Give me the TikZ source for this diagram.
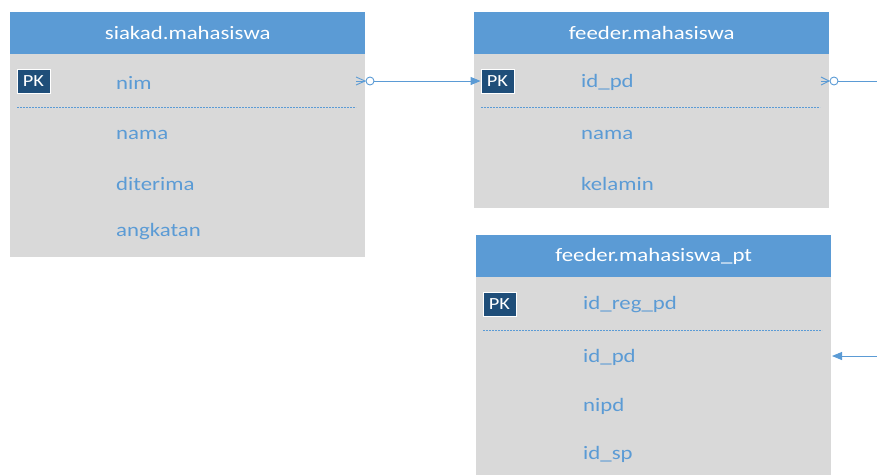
\documentclass[tikz,border=0pt]{standalone}
\usepackage{fontspec}
\setmainfont{Carlito}
\newfontfamily\widefont[FakeStretch=1.2]{Carlito}
\usetikzlibrary{arrows.meta}
\definecolor{hdrblue}{HTML}{5B9BD5}
\definecolor{bodygray}{HTML}{D9D9D9}
\definecolor{pkblue}{HTML}{1F4E79}
\definecolor{fieldblue}{HTML}{5B9BD5}
\tikzset{
  hdr/.style={fill=hdrblue, draw=none, anchor=north west, minimum width=355pt, minimum height=42pt,
    inner sep=0pt, text=white, font=\widefont\fontsize{19}{19}\selectfont},
  body/.style={fill=bodygray, draw=none, anchor=north west, minimum width=355pt, inner sep=0pt},
  pkbox/.style={fill=pkblue, draw=white, line width=0.8pt, minimum width=33pt, minimum height=24pt,
    inner sep=0pt, text=white, font=\widefont\fontsize{17}{17}\selectfont},
  field/.style={anchor=west, inner sep=0pt, yshift=-1.5pt, text=fieldblue, font=\widefont\fontsize{19}{19}\selectfont},
  sep/.style={draw=fieldblue, dashed, dash pattern=on 2pt off 1pt, line width=0.6pt},
  link/.style={draw=fieldblue, line width=0.9pt},
  tip/.style={-{Triangle[length=10pt,width=8pt]}},
}
\begin{document}
\begin{tikzpicture}[x=1pt,y=-1pt]
\useasboundingbox (0,0) rectangle (877,475);

% siakad.mahasiswa
\node[body, minimum height=203pt] (s_body) at (10,54) {};
\node[hdr] (s_hdr) at (10,12) {siakad.mahasiswa};
\node[pkbox] (s_pk) at (33.5,81) {PK};
\node[field] (s_nim) at (116,81) {nim};
\draw[sep] (17,107) -- (356,107);
\node[field] (s_nama) at (116,133) {nama};
\node[field] (s_dit) at (116,182) {diterima};
\node[field] (s_ang) at (116,230) {angkatan};

% feeder.mahasiswa
\node[body, minimum height=154pt] (f_body) at (474,54) {};
\node[hdr] (f_hdr) at (474,12) {feeder.mahasiswa};
\node[pkbox] (f_pk) at (497.5,81) {PK};
\node[field] (f_id) at (581,81) {id\_pd};
\draw[sep] (481,107) -- (820,107);
\node[field] (f_nama) at (581,133) {nama};
\node[field] (f_kel) at (581,182) {kelamin};

% feeder.mahasiswa_pt
\node[body, minimum height=198pt] (p_body) at (476,277) {};
\node[hdr] (p_hdr) at (476,235) {feeder.mahasiswa\_pt};
\node[pkbox] (p_pk) at (499.5,304) {PK};
\node[field] (p_reg) at (583,303) {id\_reg\_pd};
\draw[sep] (483,330) -- (822,330);
\node[field] (p_id) at (583,356) {id\_pd};
\node[field] (p_nipd) at (583,405) {nipd};
\node[field] (p_sp) at (583,453) {id\_sp};

% connector points
\coordinate (c1a) at (356,81);
\coordinate (c1b) at (365,81);
\coordinate (c1o) at (370,81);
\coordinate (c2a) at (821,81);
\coordinate (c2b) at (829,81);
\coordinate (c2o) at (834,81);
\coordinate (c2e) at (877,81);
\coordinate (c3s) at (877,356);
\coordinate (c3e) at (832,356);

% nim -> id_pd
\draw[link] ([yshift=-4pt]c1a) -- (c1b) -- ([yshift=4pt]c1a);
\draw[link] (c1a) -- (c1b);
\draw[link] (c1o) circle (4pt);
\draw[link, tip] ([xshift=4pt]c1o) -- (f_pk.west);

% id_pd outgoing
\draw[link] ([yshift=-4pt]c2a) -- (c2b) -- ([yshift=4pt]c2a);
\draw[link] (c2a) -- (c2b);
\draw[link] (c2o) circle (4pt);
\draw[link] ([xshift=4pt]c2o) -- (c2e);

% incoming to id_pd of mahasiswa_pt
\draw[link, tip] (c3s) -- (c3e);
\end{tikzpicture}
\end{document}
